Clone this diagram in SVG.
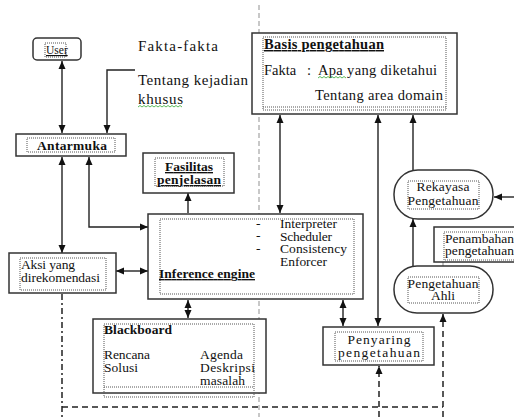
<svg xmlns="http://www.w3.org/2000/svg" width="514" height="417" viewBox="0 0 514 417">
<style>
text{font-family:"Liberation Serif","Times New Roman",serif;font-size:13.5px;fill:#111}
.b{font-weight:bold}
.u{text-decoration:underline}
.l{font-size:15px}
.k{font-size:14.5px}
.box{fill:#fff;stroke:#333;stroke-width:1.5}
.in{fill:none;stroke:#555;stroke-width:1;stroke-dasharray:1,1}
.c{fill:none;stroke:#222;stroke-width:1.4}
.d{fill:none;stroke:#222;stroke-width:1.5;stroke-dasharray:6,4}
.m{text-anchor:middle}
</style>
<defs>
<marker id="a" markerUnits="userSpaceOnUse" markerWidth="8" markerHeight="8" refX="8" refY="4" orient="auto-start-reverse" viewBox="0 0 8 8"><path d="M0,0.5 L8,4 L0,7.5 z" fill="#111"/></marker>
</defs>
<rect width="514" height="417" fill="#fff"/>
<line x1="259" y1="5" x2="259" y2="417" stroke="#c8c8c8" stroke-width="2" stroke-dasharray="5,3"/>

<g id="connectors">
<line class="c" x1="62" y1="61" x2="62" y2="133" marker-start="url(#a)" marker-end="url(#a)"/>
<polyline class="c" points="135,70 107,70 107,133" marker-end="url(#a)"/>
<line class="c" x1="62" y1="157" x2="62" y2="253" marker-start="url(#a)" marker-end="url(#a)"/>
<polyline class="c" points="89,157 89,227 148,227" marker-start="url(#a)" marker-end="url(#a)"/>
<line class="c" x1="188" y1="213" x2="188" y2="193" marker-end="url(#a)"/>
<line class="c" x1="116" y1="271" x2="148" y2="271" marker-start="url(#a)" marker-end="url(#a)"/>
<line class="c" x1="280" y1="115" x2="280" y2="213" marker-start="url(#a)" marker-end="url(#a)"/>
<line class="c" x1="378" y1="115" x2="378" y2="326" marker-start="url(#a)" marker-end="url(#a)"/>
<line class="c" x1="413" y1="170" x2="413" y2="115" marker-end="url(#a)"/>
<line class="c" x1="413" y1="266" x2="413" y2="219" marker-end="url(#a)"/>
<line class="c" x1="514" y1="197" x2="494" y2="197" marker-end="url(#a)"/>
<line class="c" x1="188" y1="300" x2="188" y2="318" marker-start="url(#a)" marker-end="url(#a)"/>
<line class="c" x1="343" y1="300" x2="343" y2="326" marker-start="url(#a)" marker-end="url(#a)"/>
<line x1="443" y1="262" x2="443" y2="267" stroke="#888" stroke-width="1"/>
<line x1="62" y1="294" x2="62" y2="417" stroke="#222" stroke-width="1.5" stroke-dasharray="6,3,2,3"/>
<line class="d" x1="62" y1="407" x2="443" y2="407"/>
<line class="d" x1="379" y1="417" x2="379" y2="366" marker-end="url(#a)"/>
<line class="d" x1="443" y1="417" x2="443" y2="314" marker-end="url(#a)"/>
</g>

<g id="fakta-label">
<text class="l" x="138" y="51" textLength="80" lengthAdjust="spacing">Fakta-fakta</text>
<text class="l" x="138" y="85" textLength="110" lengthAdjust="spacing">Tentang kejadian</text>
<text class="l" x="138" y="104" textLength="45" lengthAdjust="spacing">khusus</text>
<path d="M138,107 l2,-1.5 l2,1.5 l2,-1.5 l2,1.5 l2,-1.5 l2,1.5 l2,-1.5 l2,1.5 l2,-1.5 l2,1.5 l2,-1.5 l2,1.5 l2,-1.5 l2,1.5 l2,-1.5 l2,1.5 l2,-1.5 l2,1.5 l2,-1.5 l2,1.5 l2,-1.5 l2,1.5" fill="none" stroke="#3a3" stroke-width="0.8"/>
</g>

<g id="user">
<rect class="box" x="33" y="38" width="48" height="22" rx="4"/>
<rect class="in" x="45" y="43" width="21" height="14"/>
<text class="u" x="46" y="54" style="font-size:11.5px">User</text>
</g>

<g id="antarmuka">
<rect class="box" x="16" y="134" width="110" height="22"/>
<rect class="in" x="27" y="138" width="88" height="14"/>
<text class="b" x="37" y="150" textLength="70" lengthAdjust="spacing">Antarmuka</text>
</g>

<g id="basis">
<rect class="box" x="252" y="33" width="205" height="81"/>
<rect class="in" x="263" y="37" width="183" height="73"/>
<line x1="263" y1="107" x2="446" y2="107" stroke="#555" stroke-width="1" stroke-dasharray="1,1"/>
<text class="b u k" x="264" y="49" textLength="120" lengthAdjust="spacing">Basis pengetahuan</text>
<text class="k" x="264" y="75">Fakta</text>
<text class="k" x="307" y="75">:</text>
<text class="k" x="318" y="75" textLength="119" lengthAdjust="spacing">Apa yang diketahui</text>
<path d="M318,78 l2,-1.5 l2,1.5 l2,-1.5 l2,1.5 l2,-1.5 l2,1.5 l2,-1.5 l2,1.5 l2,-1.5 l2,1.5 l2,-1.5 l2,1.5 l2,-1.5 l2,1.5" fill="none" stroke="#3a3" stroke-width="0.8"/>
<text class="k" x="315" y="100" textLength="128" lengthAdjust="spacing">Tentang area domain</text>
</g>

<g id="fasilitas">
<rect class="box" x="143" y="153" width="91" height="40"/>
<rect class="in" x="155" y="158" width="69" height="28"/>
<text class="b u m" x="189" y="171" textLength="48" lengthAdjust="spacing">Fasilitas</text>
<text class="b u m" x="189" y="184" textLength="64" lengthAdjust="spacing">penjelasan</text>
</g>

<g id="aksi">
<rect class="box" x="9" y="253" width="107" height="40"/>
<rect class="in" x="20" y="258" width="86" height="32"/>
<text x="21" y="269" textLength="54" lengthAdjust="spacing">Aksi yang</text>
<text x="21" y="282" textLength="79" lengthAdjust="spacing">direkomendasi</text>
</g>

<g id="inference">
<rect class="box" x="148" y="214" width="215" height="85"/>
<rect class="in" x="160" y="219" width="194" height="75"/>
<text class="b u" x="159" y="278" textLength="96" lengthAdjust="spacing">Inference engine</text>
<text x="256" y="228">-</text>
<text x="256" y="240">-</text>
<text x="256" y="253">-</text>
<text x="280" y="228" textLength="57" lengthAdjust="spacing">Interpreter</text>
<text x="280" y="241" textLength="52" lengthAdjust="spacing">Scheduler</text>
<text x="280" y="253" textLength="67" lengthAdjust="spacing">Consistency</text>
<text x="280" y="266" textLength="47" lengthAdjust="spacing">Enforcer</text>
</g>

<g id="blackboard">
<rect class="box" x="93" y="319" width="173" height="74"/>
<rect class="in" x="104" y="324" width="150" height="73"/>
<line x1="104" y1="387" x2="254" y2="387" stroke="#555" stroke-width="1" stroke-dasharray="1,1"/>
<text class="b" x="104" y="334" textLength="68" lengthAdjust="spacing">Blackboard</text>
<text x="104" y="359" textLength="46" lengthAdjust="spacing">Rencana</text>
<text x="104" y="372" textLength="34" lengthAdjust="spacing">Solusi</text>
<text x="200" y="359" textLength="43" lengthAdjust="spacing">Agenda</text>
<text x="200" y="372" textLength="55" lengthAdjust="spacing">Deskripsi</text>
<text x="200" y="385" textLength="45" lengthAdjust="spacing">masalah</text>
</g>

<g id="penyaring">
<rect class="box" x="323" y="327" width="111" height="38"/>
<rect class="in" x="335" y="332" width="88" height="29"/>
<text class="m" x="379" y="344" textLength="63" lengthAdjust="spacing">Penyaring</text>
<text class="m" x="379" y="357" textLength="82" lengthAdjust="spacing">pengetahuan</text>
</g>

<g id="rekayasa">
<rect class="box" x="394" y="170" width="99" height="49" rx="24"/>
<rect class="in" x="408" y="181" width="71" height="28"/>
<text class="m" x="443" y="191" textLength="53" lengthAdjust="spacing">Rekayasa</text>
<text class="m" x="443" y="205" textLength="71" lengthAdjust="spacing">Pengetahuan</text>
</g>

<g id="penambahan">
<rect class="box" x="434" y="227" width="82" height="35"/>
<rect class="in" x="444" y="232" width="72" height="28"/>
<text x="445" y="243" textLength="69" lengthAdjust="spacing">Penambahan</text>
<text x="445" y="255" textLength="69" lengthAdjust="spacing">pengetahuan</text>
</g>

<g id="ahli">
<rect class="box" x="394" y="266" width="99" height="47" rx="23"/>
<rect class="in" x="408" y="277" width="71" height="26"/>
<text class="m" x="443" y="288" textLength="71" lengthAdjust="spacing">Pengetahuan</text>
<text class="m" x="443" y="300">Ahli</text>
</g>
</svg>
